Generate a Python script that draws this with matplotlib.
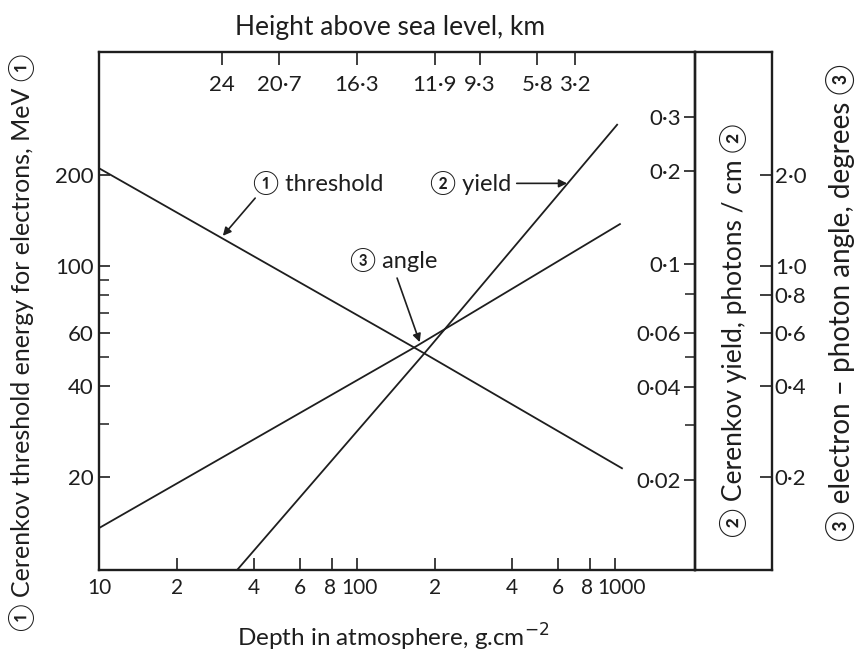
import matplotlib
matplotlib.use("Agg")
import matplotlib.pyplot as plt
from matplotlib.transforms import ScaledTranslation
from matplotlib.ticker import FixedLocator, FixedFormatter, NullFormatter, NullLocator

plt.rcParams['font.family'] = ['Lato', 'DejaVu Sans', 'Noto Sans CJK JP']

# --- data ---
depth_ticks = [10, 20, 40, 60, 80, 100, 200, 400, 600, 800, 1000]
depth_labels = ['10', '2', '4', '6', '8', '100', '2', '4', '6', '8', '1000']

# height above sea level marked at these depths (g/cm2)
height_depth = [30, 50, 100, 200, 300, 500, 700]
height_labels = ['24', '20·7', '16·3', '11·9', '9·3', '5·8', '3·2']

energy_ticks = [20, 40, 60, 100, 200]
energy_minor = [30, 50, 70, 80, 90]
yield_ticks = [0.02, 0.04, 0.06, 0.1, 0.2, 0.3]
yield_labels = ['0·02', '0·04', '0·06', '0·1', '0·2', '0·3']
yield_minor = [0.03, 0.05, 0.08]
angle_ticks = [0.2, 0.4, 0.6, 0.8, 1.0, 2.0]
angle_labels = ['0·2', '0·4', '0·6', '0·8', '1·0', '2·0']

# curves (depth in g/cm2)
thr_depth = [10, 165, 1064]
thr_mev = [211, 54, 21.4]
yld_depth = [34.3, 180, 1019]
yld_val = [0.0102, 0.0507, 0.283]
ang_depth = [10, 165, 1045]
ang_deg = [0.1356, 0.535, 1.378]

ink = '#1e1e1e'
lw_line = 1.3
lw_frame = 1.7
fs_tick = 16
fs_note = 17

fig = plt.figure(figsize=(8.58, 6.59), dpi=100)
W, H = 858, 659
ax = fig.add_axes([99 / W, 89 / H, 596 / W, 518 / H])
ax.set_xscale('log')
ax.set_yscale('log')
ax.set_xlim(10, 2042)
ax.set_ylim(9.85, 512)

ax_y = ax.twinx()
ax_y.set_yscale('log')
ax_y.set_ylim(0.0102, 0.487)
ax_y.axis('off')
ax_a = ax.twinx()
ax_a.set_yscale('log')
ax_a.set_ylim(0.0985, 5.12)
ax_a.axis('off')

ax.plot(thr_depth, thr_mev, color=ink, lw=lw_line)
ax_y.plot(yld_depth, yld_val, color=ink, lw=lw_line)
ax_a.plot(ang_depth, ang_deg, color=ink, lw=lw_line)

for s in ax.spines.values():
    s.set_linewidth(lw_frame)
    s.set_color(ink)

# bottom axis
ax.xaxis.set_major_locator(FixedLocator(depth_ticks))
ax.xaxis.set_major_formatter(FixedFormatter(depth_labels))
ax.xaxis.set_minor_locator(NullLocator())
ax.tick_params(axis='x', direction='in', length=9, width=1.2, labelsize=fs_tick - 1,
               colors=ink, pad=6)
# keep "8 100" and "8 1000" from running together
nudge = {4: -2, 5: 2, 9: -3, 10: 7}
for i, t in enumerate(ax.xaxis.get_major_ticks()):
    if i in nudge:
        t.label1.set_transform(t.label1.get_transform()
                               + ScaledTranslation(nudge[i] / 100, 0, fig.dpi_scale_trans))

# left axis
ax.yaxis.set_major_locator(FixedLocator(energy_ticks))
ax.yaxis.set_major_formatter(FixedFormatter([str(v) for v in energy_ticks]))
ax.yaxis.set_minor_locator(FixedLocator(energy_minor))
ax.yaxis.set_minor_formatter(NullFormatter())
ax.tick_params(axis='y', which='major', direction='in', length=8, width=1.2,
               labelsize=fs_tick, colors=ink, pad=4)
ax.tick_params(axis='y', which='minor', direction='in', length=7, width=1.1, colors=ink)

# top axis: height
top = ax.twiny()
top.set_xscale('log')
top.set_xlim(ax.get_xlim())
top.xaxis.set_major_locator(FixedLocator(height_depth))
top.xaxis.set_major_formatter(FixedFormatter(height_labels))
top.xaxis.set_minor_locator(NullLocator())
top.yaxis.set_visible(False)
top.tick_params(axis='x', direction='in', length=9, width=1.2, labelsize=fs_tick,
                colors=ink, pad=-31)
for s in top.spines.values():
    s.set_visible(False)

# narrow box with yield and angle scales
box = fig.add_axes([695 / W, 89 / H, 77 / W, 518 / H])
box.set_yscale('log')
box.set_ylim(0.0102, 0.487)
box.set_xticks([])
box.yaxis.set_major_locator(FixedLocator(yield_ticks))
box.yaxis.set_major_formatter(FixedFormatter(yield_labels))
box.yaxis.set_minor_locator(FixedLocator(yield_minor))
box.yaxis.set_minor_formatter(NullFormatter())
box.tick_params(axis='y', which='major', direction='out', length=8, width=1.2,
                labelsize=fs_tick, colors=ink, pad=2)
box.tick_params(axis='y', which='minor', direction='out', length=7, width=1.1, colors=ink)
for s in box.spines.values():
    s.set_linewidth(lw_frame)
    s.set_color(ink)
box.patch.set_alpha(0)

box_a = box.twinx()
box_a.set_yscale('log')
box_a.set_ylim(0.0985, 5.12)
box_a.yaxis.set_major_locator(FixedLocator(angle_ticks))
box_a.yaxis.set_major_formatter(FixedFormatter(angle_labels))
box_a.yaxis.set_minor_locator(NullLocator())
box_a.tick_params(axis='y', direction='in', length=9, width=1.2,
                  labelsize=fs_tick, colors=ink, pad=2)
for s in box_a.spines.values():
    s.set_visible(False)

# axis titles
fig.text(390 / W, 1 - 28 / H, 'Height above sea level, km', ha='center', va='center',
         fontsize=19, color=ink)
fig.text(393 / W, 1 - 637 / H, 'Depth in atmosphere, g.cm$^{-2}$', ha='center',
         va='center', fontsize=17.5, color=ink)
fig.text(22 / W, 1 - 342 / H, '① Cerenkov threshold energy for electrons, MeV ①',
         rotation=90, ha='center', va='center', fontsize=18, color=ink)
fig.text(733 / W, 1 - 330 / H, '② Cerenkov yield, photons / cm ②',
         rotation=90, ha='center', va='center', fontsize=19, color=ink)
fig.text(840 / W, 1 - 302 / H, '③ electron – photon angle, degrees ③',
         rotation=90, ha='center', va='center', fontsize=20, color=ink)

# curve labels with arrows
arrow = dict(arrowstyle='-|>', color=ink, lw=1.2, mutation_scale=12, shrinkA=0, shrinkB=0)
ax.text(39.5, 188, '① threshold', ha='left', va='center', fontsize=fs_note, color=ink)
ax.annotate('', xy=(30.2, 126), xytext=(40.3, 168), arrowprops=arrow)
ax.text(192, 188, '② yield', ha='left', va='center', fontsize=fs_note, color=ink)
ax.annotate('', xy=(652, 188), xytext=(416, 188), arrowprops=arrow)
ax.text(93.9, 104.6, '③ angle', ha='left', va='center', fontsize=fs_note, color=ink)
ax.annotate('', xy=(175, 56.0), xytext=(143, 91.3), arrowprops=arrow)

fig.savefig('out.png', dpi=100)
